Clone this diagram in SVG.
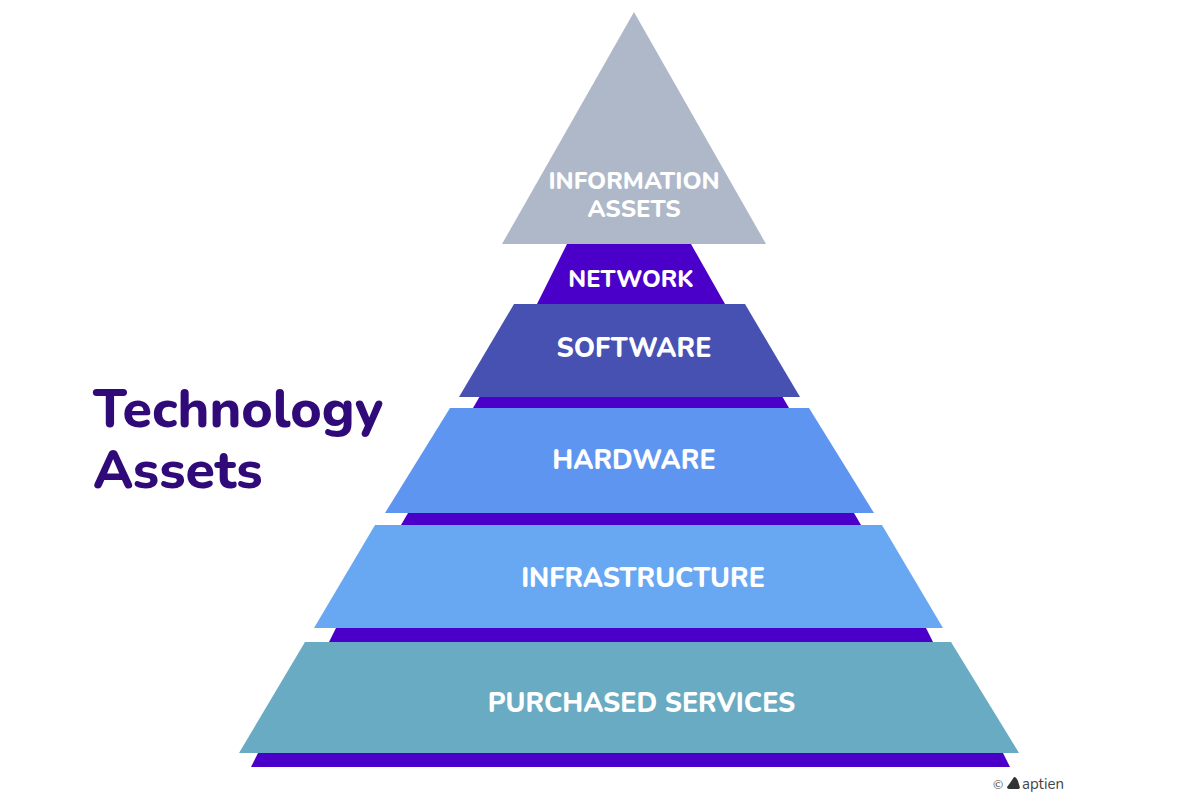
<svg xmlns="http://www.w3.org/2000/svg" width="1200" height="812" viewBox="0 0 1200 812">
<style>
.b{fill:#4a00c8}
.l{font-family:"Nunito","Noto Sans","Liberation Sans",sans-serif;font-weight:800;fill:#fff;text-anchor:middle}
.t{font-family:"Nunito","Noto Sans","Liberation Sans",sans-serif;font-weight:800;fill:#2f0a78;font-size:53.5px}
.c{font-family:"Nunito","Noto Sans","Liberation Sans",sans-serif;fill:#444}
</style>
<rect width="1200" height="812" fill="#fff"/>
<g id="base-bands">
<polygon class="b" points="567,244 691,244 725,304 537,304"/>
<polygon class="b" points="480,396 782,396 789,408 473,408"/>
<polygon class="b" points="408,513 854,513 861,525 401,525"/>
<polygon class="b" points="336,628 926,628 933,642 329,642"/>
<polygon class="b" points="258,753 1003,753 1010,767 251,767"/>
</g>
<g id="information-assets"><polygon points="634,12 766,244 502,244" fill="#afb8c9"/><text class="l" font-size="24" x="634" y="189">INFORMATION</text><text class="l" font-size="24" x="634" y="217">ASSETS</text></g>
<g id="network"><text class="l" font-size="23.7" x="631" y="287">NETWORK</text></g>
<g id="software"><polygon points="514,304 745,304 800,397 459,397" fill="#4751b2"/><text class="l" font-size="26.8" x="634" y="356.500">SOFTWARE</text></g>
<g id="hardware"><polygon points="450,408 809,408 874,513 385,513" fill="#5e95f0"/><text class="l" font-size="26.8" x="634" y="469">HARDWARE</text></g>
<g id="infrastructure"><polygon points="375,525 882,525 943,628 314,628" fill="#68a8f2"/><text class="l" font-size="26.8" x="643" y="587">INFRASTRUCTURE</text></g>
<g id="purchased-services"><polygon points="305,642 951,642 1019,753 239,753" fill="#68abc2"/><text class="l" font-size="26.8" x="641.500" y="712">PURCHASED SERVICES</text></g>
<g id="title"><text class="t" x="93" y="427">Technology</text><text class="t" x="93" y="488">Assets</text></g>
<g id="credit"><text class="c" x="993" y="789" font-size="12.500">©</text><path d="M1014 777c2 0 3 2 4 4l2 7c-1 1-2 1-3 1h-8c-1 0-2-1-2-2l3-4z" fill="#333"/><text class="c" x="1022" y="789" font-size="15">aptien</text></g>
</svg>
